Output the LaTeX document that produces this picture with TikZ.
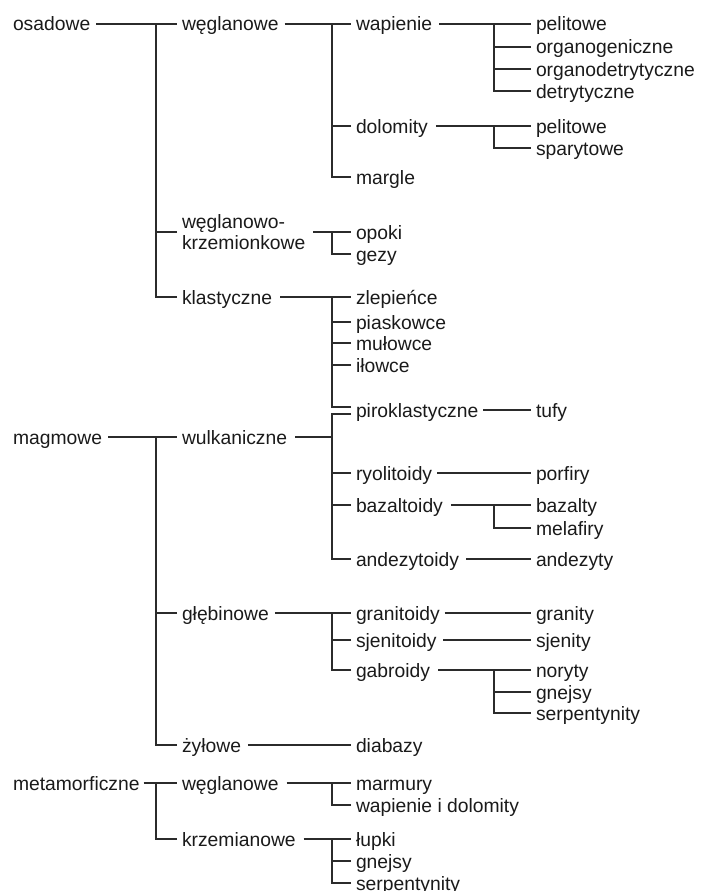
\documentclass[tikz,border=0pt]{standalone}
\usepackage{fontspec}
\setmainfont{Liberation Sans}
\definecolor{ink}{HTML}{1A1A1A}
\definecolor{wire}{HTML}{2B2B2B}
\begin{document}
\begin{tikzpicture}[x=1pt,y=-1pt,
  lbl/.style={inner sep=0pt, outer sep=0pt, text=ink, font=\fontsize{19.3}{21}\selectfont},
  tx/.style={lbl, anchor=west, text height=14pt, text depth=0pt},
  con/.style={draw=wire, line width=1.3pt}]
\useasboundingbox (0,0) rectangle (702,891);
% level 0
\node[tx] (osadowe) at (13,24) {osadowe};
\node[tx] (magmowe) at (13,437) {magmowe};
\node[tx] (metam) at (13,783) {metamorficzne};
% level 1
\node[tx] (wegl1) at (182,24) {węglanowe};
\node[lbl,anchor=west,align=left] (wk) at (182,232) {węglanowo-\\krzemionkowe};
\node[tx] (klast) at (182,297) {klastyczne};
\node[tx] (wulk) at (182,437) {wulkaniczne};
\node[tx] (gleb) at (182,613) {głębinowe};
\node[tx] (zyl) at (182,745) {żyłowe};
\node[tx] (wegl2) at (182,783) {węglanowe};
\node[tx] (krzem) at (182,839) {krzemianowe};
% level 2
\node[tx] (wapienie) at (356,24) {wapienie};
\node[tx] (dolomity) at (356,126) {dolomity};
\node[tx] (margle) at (356,177) {margle};
\node[tx] (opoki) at (356,232) {opoki};
\node[tx] (gezy) at (356,254) {gezy};
\node[tx] (zlep) at (356,297) {zlepieńce};
\node[tx] (piask) at (356,322) {piaskowce};
\node[tx] (mulow) at (356,343) {mułowce};
\node[tx] (ilow) at (356,365) {iłowce};
\node[tx] (pirokl) at (356,410) {piroklastyczne};
\node[tx] (ryol) at (356,473) {ryolitoidy};
\node[tx] (bazt) at (356,505) {bazaltoidy};
\node[tx] (andt) at (356,559) {andezytoidy};
\node[tx] (grant) at (356,613) {granitoidy};
\node[tx] (sjent) at (356,640) {sjenitoidy};
\node[tx] (gabr) at (356,670) {gabroidy};
\node[tx] (diab) at (356,745) {diabazy};
\node[tx] (marm) at (356,783) {marmury};
\node[tx] (wid) at (356,805) {wapienie i dolomity};
\node[tx] (lupki) at (356,839) {łupki};
\node[tx] (gnej1) at (356,861) {gnejsy};
\node[tx] (serp1) at (356,883) {serpentynity};
% level 3
\node[tx] (pel1) at (536,24) {pelitowe};
\node[tx] (orgg) at (536,47) {organogeniczne};
\node[tx] (orgd) at (536,69) {organodetrytyczne};
\node[tx] (detr) at (536,91) {detrytyczne};
\node[tx] (pel2) at (536,126) {pelitowe};
\node[tx] (spar) at (536,148) {sparytowe};
\node[tx] (tufy) at (536,410) {tufy};
\node[tx] (porf) at (536,473) {porfiry};
\node[tx] (bazy) at (536,505) {bazalty};
\node[tx] (mela) at (536,528) {melafiry};
\node[tx] (andy) at (536,559) {andezyty};
\node[tx] (grany) at (536,613) {granity};
\node[tx] (sjeny) at (536,640) {sjenity};
\node[tx] (nory) at (536,670) {noryty};
\node[tx] (gnej2) at (536,692) {gnejsy};
\node[tx] (serp2) at (536,713) {serpentynity};
% bar positions
\coordinate (b0) at (156,0);
\coordinate (b1) at (332,0);
\coordinate (b2) at (494,0);
% level 0 -> 1
\draw[con] ([xshift=6pt]osadowe.east) -- ([xshift=-5pt]wegl1.west);
\draw[con] ([xshift=-5pt]wk.west |- opoki.west) -| (b0 |- osadowe.east);
\draw[con] ([xshift=-5pt]klast.west) -| (b0 |- osadowe.east);
\draw[con] ([xshift=6pt]magmowe.east) -- ([xshift=-5pt]wulk.west);
\draw[con] ([xshift=-5pt]gleb.west) -| (b0 |- magmowe.east);
\draw[con] ([xshift=-5pt]zyl.west) -| (b0 |- magmowe.east);
\draw[con] ([xshift=4pt]metam.east) -- ([xshift=-5pt]wegl2.west);
\draw[con] ([xshift=-5pt]krzem.west) -| (b0 |- metam.east);
% level 1 -> 2
\draw[con] ([xshift=6pt]wegl1.east) -- ([xshift=-5pt]wapienie.west);
\draw[con] ([xshift=-5pt]dolomity.west) -| (b1 |- wegl1.east);
\draw[con] ([xshift=-5pt]margle.west) -| (b1 |- wegl1.east);
\draw[con] ([xshift=8pt]wk.east |- opoki.west) -- ([xshift=-5pt]opoki.west);
\draw[con] ([xshift=-5pt]gezy.west) -| (b1 |- opoki.west);
\draw[con] ([xshift=8pt]klast.east) -- ([xshift=-5pt]zlep.west);
\draw[con] ([xshift=-5pt]piask.west) -| (b1 |- klast.east);
\draw[con] ([xshift=-5pt]mulow.west) -| (b1 |- klast.east);
\draw[con] ([xshift=-5pt]ilow.west) -| (b1 |- klast.east);
\draw[con] ([xshift=-5pt,yshift=3pt]pirokl.west) -| (b1 |- klast.east);
\draw[con] ([xshift=8pt]wulk.east) -- (b1 |- wulk.east);
\draw[con] ([xshift=-5pt,yshift=-4pt]pirokl.west) -| (b1 |- andt.west) -- ([xshift=-5pt]andt.west);
\draw[con] ([xshift=-5pt]ryol.west) -- (b1 |- ryol.west);
\draw[con] ([xshift=-5pt]bazt.west) -- (b1 |- bazt.west);
\draw[con] ([xshift=6pt]gleb.east) -- ([xshift=-5pt]grant.west);
\draw[con] ([xshift=-5pt]sjent.west) -| (b1 |- gleb.east);
\draw[con] ([xshift=-5pt]gabr.west) -| (b1 |- gleb.east);
\draw[con] ([xshift=7pt]zyl.east) -- ([xshift=-5pt]diab.west);
\draw[con] ([xshift=8pt]wegl2.east) -- ([xshift=-5pt]marm.west);
\draw[con] ([xshift=-5pt]wid.west) -| (b1 |- wegl2.east);
\draw[con] ([xshift=8pt]krzem.east) -- ([xshift=-5pt]lupki.west);
\draw[con] ([xshift=-5pt]gnej1.west) -| (b1 |- krzem.east);
\draw[con] ([xshift=-5pt]serp1.west) -| (b1 |- krzem.east);
% level 2 -> 3
\draw[con] ([xshift=7pt]wapienie.east) -- ([xshift=-5pt]pel1.west);
\draw[con] ([xshift=-5pt]orgg.west) -| (b2 |- wapienie.east);
\draw[con] ([xshift=-5pt]orgd.west) -| (b2 |- wapienie.east);
\draw[con] ([xshift=-5pt]detr.west) -| (b2 |- wapienie.east);
\draw[con] ([xshift=8pt]dolomity.east) -- ([xshift=-5pt]pel2.west);
\draw[con] ([xshift=-5pt]spar.west) -| (b2 |- dolomity.east);
\draw[con] ([xshift=5pt]pirokl.east) -- ([xshift=-5pt]tufy.west);
\draw[con] ([xshift=5pt]ryol.east) -- ([xshift=-5pt]porf.west);
\draw[con] ([xshift=8pt]bazt.east) -- ([xshift=-5pt]bazy.west);
\draw[con] ([xshift=-5pt]mela.west) -| (b2 |- bazt.east);
\draw[con] ([xshift=7pt]andt.east) -- ([xshift=-5pt]andy.west);
\draw[con] ([xshift=5pt]grant.east) -- ([xshift=-5pt]grany.west);
\draw[con] ([xshift=7pt]sjent.east) -- ([xshift=-5pt]sjeny.west);
\draw[con] ([xshift=8pt]gabr.east) -- ([xshift=-5pt]nory.west);
\draw[con] ([xshift=-5pt]gnej2.west) -| (b2 |- gabr.east);
\draw[con] ([xshift=-5pt]serp2.west) -| (b2 |- gabr.east);
\end{tikzpicture}
\end{document}
